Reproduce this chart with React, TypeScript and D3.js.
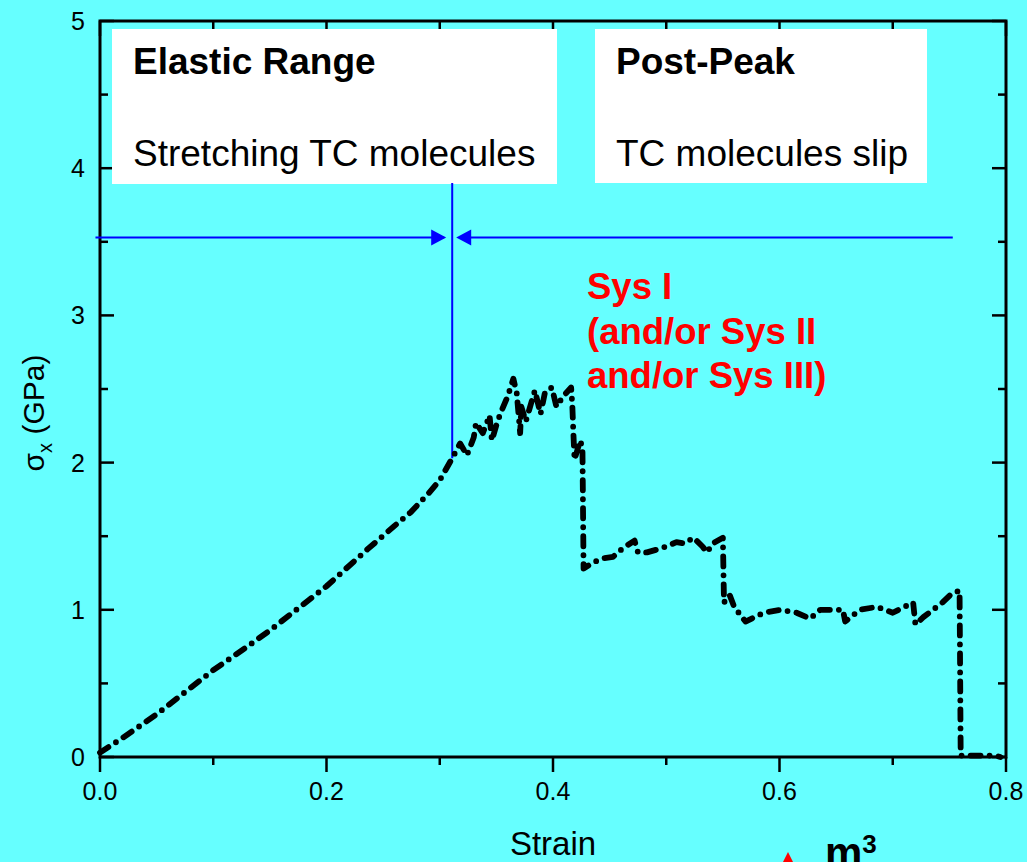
import React from "react";
import * as d3 from "d3";

// Stress–strain response (strain, σx in GPa)
const strain = [
  0.0, 0.02, 0.05, 0.08, 0.1, 0.13, 0.15, 0.17, 0.2, 0.236, 0.26, 0.274, 0.29, 0.3, 0.311,
  0.318, 0.324, 0.33, 0.332, 0.338, 0.344, 0.346, 0.351, 0.355, 0.36, 0.365, 0.368, 0.371,
  0.372, 0.376, 0.384, 0.389, 0.393, 0.399, 0.403, 0.409, 0.416, 0.417, 0.418, 0.419, 0.424,
  0.426, 0.427, 0.435, 0.444, 0.453, 0.462, 0.472, 0.475, 0.483, 0.492, 0.5, 0.509, 0.516,
  0.524, 0.532, 0.536, 0.541, 0.55, 0.551, 0.556, 0.56, 0.57, 0.586, 0.601, 0.615, 0.627,
  0.636, 0.656, 0.658, 0.671, 0.686, 0.7, 0.718, 0.72, 0.727, 0.744, 0.752, 0.759, 0.76,
  0.79, 0.795,
];
const stress = [
  0.03, 0.13, 0.29, 0.47, 0.59, 0.75, 0.86, 0.98, 1.16, 1.41, 1.57, 1.66, 1.79, 1.88, 2.03,
  2.13, 2.05, 2.17, 2.27, 2.2, 2.32, 2.15, 2.28, 2.36, 2.45, 2.57, 2.47, 2.2,
  2.38, 2.28, 2.49, 2.33, 2.48, 2.51, 2.38, 2.45, 2.51, 2.4, 2.2, 2.02, 2.15,
  2.1, 1.28, 1.32, 1.35, 1.36, 1.42, 1.47, 1.39, 1.39, 1.41, 1.43, 1.46, 1.45,
  1.49, 1.43, 1.39, 1.45, 1.49, 1.05, 1.1, 1.02, 0.92, 0.98, 1.0, 0.98, 0.94,
  1.0, 1.0, 0.92, 1.0, 1.02, 0.98, 1.05, 0.9, 0.95, 1.05, 1.11, 1.13, 0.01,
  0.01, 0.0,
];

const xTicks = [0, 0.2, 0.4, 0.6, 0.8];
const xMinorTicks = [0.1, 0.3, 0.5, 0.7];
const yTicks = [0, 1, 2, 3, 4, 5];
const yMinorTicks = [0.5, 1.5, 2.5, 3.5, 4.5];

// Annotation values
const elasticLimitStrain = 0.311;
const arrowLevel = 3.53;
const arrowSpan = [-0.004, 0.753];
const sysLines = ["Sys I", "(and/or Sys II", "and/or Sys III)"];

const W = 1027;
const H = 862;
const BG = "#66FFFF";

export default function App() {
  const x = d3.scaleLinear().domain([0, 0.8]).range([100, 1006]);
  const y = d3.scaleLinear().domain([0, 5]).range([757, 21]);

  const pts: [number, number][] = strain.map((s, i) => [s, stress[i]]);
  const line = d3
    .line<[number, number]>()
    .x((d) => x(d[0]))
    .y((d) => y(d[1]));

  const font = "'Liberation Sans', Arial, Helvetica, sans-serif";
  const vx = x(elasticLimitStrain);
  const ay = y(arrowLevel);
  const vyEnd = y(stress[strain.indexOf(elasticLimitStrain)]);

  return (
    <svg
      width={W}
      height={H}
      style={{ position: "absolute", left: 0, top: 0, background: BG }}
      fontFamily={font}
    >
      <rect x={0} y={0} width={W} height={H} fill={BG} />

      {/* ticks */}
      <g stroke="#000" strokeWidth={2.5}>
        {xTicks.map((t) => (
          <g key={"xt" + t}>
            <line x1={x(t)} x2={x(t)} y1={757} y2={772} />
            <line x1={x(t)} x2={x(t)} y1={21} y2={36} />
          </g>
        ))}
        {xMinorTicks.map((t) => (
          <g key={"xm" + t}>
            <line x1={x(t)} x2={x(t)} y1={757} y2={765} />
            <line x1={x(t)} x2={x(t)} y1={21} y2={29} />
          </g>
        ))}
        {yTicks.map((t) => (
          <g key={"yt" + t}>
            <line x1={100} x2={114} y1={y(t)} y2={y(t)} />
            <line x1={1006} x2={992} y1={y(t)} y2={y(t)} />
          </g>
        ))}
        {yMinorTicks.map((t) => (
          <g key={"ym" + t}>
            <line x1={100} x2={108} y1={y(t)} y2={y(t)} />
            <line x1={1006} x2={998} y1={y(t)} y2={y(t)} />
          </g>
        ))}
      </g>

      {/* frame */}
      <rect x={100} y={21} width={906} height={736} fill="none" stroke="#000" strokeWidth={3} />

      {/* text boxes */}
      <rect x={112} y={29} width={445} height={155} fill="#fff" />
      <rect x={595} y={29} width={332} height={154} fill="#fff" />
      <text x={133} y={74} fontSize={37} fontWeight="bold" fill="#000">Elastic Range</text>
      <text x={133} y={166} fontSize={37} fill="#000">Stretching TC molecules</text>
      <text x={616} y={74} fontSize={37} fontWeight="bold" fill="#000">Post-Peak</text>
      <text x={616} y={166} fontSize={37} fill="#000">TC molecules slip</text>

      {/* elastic limit marker and arrows */}
      <g stroke="#0000FF" strokeWidth={2} fill="none">
        <line x1={vx} x2={vx} y1={183} y2={vyEnd} />
        <line x1={x(arrowSpan[0])} x2={vx - 8} y1={ay} y2={ay} />
        <line x1={vx + 8} x2={x(arrowSpan[1])} y1={ay} y2={ay} />
      </g>
      <path d={`M${vx - 6},${ay} L${vx - 21},${ay - 8} L${vx - 21},${ay + 8} Z`} fill="#0000FF" />
      <path d={`M${vx + 4},${ay} L${vx + 19},${ay - 8} L${vx + 19},${ay + 8} Z`} fill="#0000FF" />

      {/* curve */}
      <path
        d={line(pts) || ""}
        fill="none"
        stroke="#000"
        strokeWidth={5.8}
        strokeDasharray="10 9 0 9"
        strokeLinecap="round"
        strokeLinejoin="round"
      />

      {/* slip system label */}
      {sysLines.map((s, i) => (
        <text key={s} x={587} y={299 + i * 44.5} fontSize={36.5} fontWeight="bold" fill="#FF0000">
          {s}
        </text>
      ))}

      {/* tick labels */}
      {xTicks.map((t) => (
        <text key={"xl" + t} x={x(t)} y={800} fontSize={25} textAnchor="middle" fill="#000">
          {t.toFixed(1)}
        </text>
      ))}
      {yTicks.map((t) => (
        <text key={"yl" + t} x={85} y={y(t) + 9} fontSize={25} textAnchor="end" fill="#000">
          {t}
        </text>
      ))}

      {/* axis titles */}
      <text x={553} y={855} fontSize={33} textAnchor="middle" fill="#000">Strain</text>
      <text
        transform={`translate(44,413) rotate(-90)`}
        fontSize={30}
        textAnchor="middle"
        fill="#000"
      >
        σ<tspan fontSize={20} dy={8}>x</tspan>
        <tspan dy={-8}> (GPa)</tspan>
      </text>

      {/* fragment of a following label */}
      <path d="M788,852 L778,872 L798,872 Z" fill="#FF0000" />
      <text x={825} y={867} fontSize={42} fontWeight="bold" fill="#000">
        m<tspan fontSize={26} dy={-14}>3</tspan>
      </text>
    </svg>
  );
}
